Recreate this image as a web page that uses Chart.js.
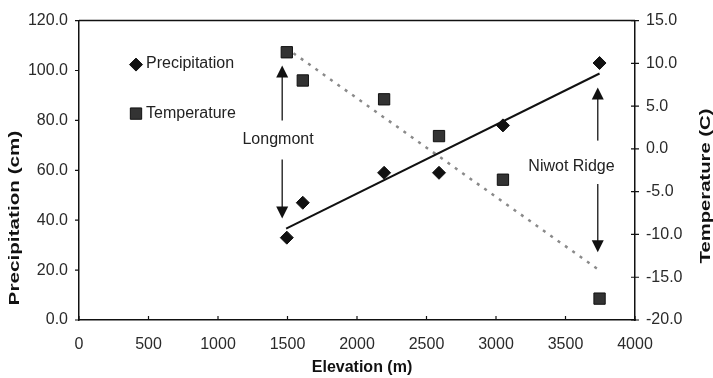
<!DOCTYPE html>
<html>
<head>
<meta charset="utf-8">
<script src="https://cdn.jsdelivr.net/npm/chart.js@4.4.0/dist/chart.umd.min.js"></script>
<style>
  body { margin: 0; background: #fff; }
  canvas { display: block; }
</style>
</head>
<body>
<canvas id="elevChart" width="713" height="378"></canvas>

<script>
  // station elevations (m) and the two measured series
  const elevation = [1495, 1610, 2195, 2590, 3050, 3745];
  const precipitation = [33, 47, 59, 59, 78, 103];
  const temperature = [11.3, 8.0, 5.8, 1.5, -3.6, -17.5];

  // fitted trend lines, end points
  const trendX = [1490, 3745];
  const precipTrend = [36.6, 98.8];
  const tempTrend = [11.8, -14.2];

  // annotation arrows (on the precipitation axis)
  const arrowX = [1462, 1462, 3732, 3732];
  const arrowFrom = [80, 64.3, 71.9, 54.5];
  const arrowTo = [102, 40.7, 93.2, 27.2];
  const noteText = ['Longmont', 'Niwot Ridge'];
  const noteX = [1432, 3543];
  const noteY = [72.2, 61.6];

  const pts = (xs, ys) => xs.map((x, i) => ({x: x, y: ys[i]}));
  const ink = '#2a2a2a';
  const font = '"Liberation Sans", Arial, sans-serif';
  Chart.defaults.font.family = font;

  const extras = {
    id: 'extras',
    afterDraw(chart) {
      const ctx = chart.ctx;
      const a = chart.chartArea;
      const sx = chart.scales.x, sy = chart.scales.y, sy2 = chart.scales.y2;
      ctx.save();
      // top frame line
      ctx.strokeStyle = '#111';
      ctx.lineWidth = 1.5;
      ctx.beginPath();
      ctx.moveTo(a.left, a.top);
      ctx.lineTo(a.right, a.top);
      ctx.stroke();
      // tick marks
      ctx.lineWidth = 1.2;
      ctx.beginPath();
      sy.ticks.forEach(t => {
        const p = sy.getPixelForValue(t.value);
        ctx.moveTo(a.left - 4, p); ctx.lineTo(a.left, p);
      });
      sy2.ticks.forEach(t => {
        const p = sy2.getPixelForValue(t.value);
        ctx.moveTo(a.right - 4, p); ctx.lineTo(a.right + 4, p);
      });
      sx.ticks.forEach(t => {
        const p = sx.getPixelForValue(t.value);
        ctx.moveTo(p, a.bottom); ctx.lineTo(p, a.bottom - 4);
      });
      ctx.stroke();

      // arrows
      ctx.strokeStyle = '#333';
      ctx.fillStyle = '#111';
      ctx.lineWidth = 1.5;
      arrowX.forEach((x, i) => {
        const px = sx.getPixelForValue(x);
        const y0 = sy.getPixelForValue(arrowFrom[i]);
        const y1 = sy.getPixelForValue(arrowTo[i]);
        const dir = y1 < y0 ? 1 : -1;
        ctx.beginPath();
        ctx.moveTo(px, y0);
        ctx.lineTo(px, y1 + dir * 10);
        ctx.stroke();
        ctx.beginPath();
        ctx.moveTo(px, y1);
        ctx.lineTo(px - 6, y1 + dir * 12);
        ctx.lineTo(px + 6, y1 + dir * 12);
        ctx.closePath();
        ctx.fill();
      });

      // notes
      ctx.fillStyle = '#222';
      ctx.font = '16px ' + font;
      ctx.textAlign = 'center';
      ctx.textBaseline = 'middle';
      noteText.forEach((t, i) => {
        ctx.fillText(t, sx.getPixelForValue(noteX[i]), sy.getPixelForValue(noteY[i]));
      });

      // legend inside the plot
      const ds = chart.data.datasets;
      const lx = a.left + 57;
      [44, 93].forEach((dy, i) => {
        const d = ds[i];
        ctx.fillStyle = d.backgroundColor;
        ctx.strokeStyle = d.borderColor;
        ctx.lineWidth = d.borderWidth;
        Chart.helpers.drawPoint(ctx, {
          pointStyle: d.pointStyle, radius: d.pointRadius,
          borderWidth: d.borderWidth, rotation: 0
        }, lx, a.top + dy);
      });
      ctx.textAlign = 'left';
      ctx.fillStyle = '#222';
      ctx.fillText(ds[0].label, lx + 10, a.top + 43);
      ctx.fillText(ds[1].label, lx + 10, a.top + 93);

      // axis titles (stretched, as in the scan)
      ctx.fillStyle = '#111';
      ctx.font = 'bold 15px ' + font;
      ctx.textAlign = 'center';
      ctx.save();
      ctx.translate(15, 218);
      ctx.rotate(-Math.PI / 2);
      ctx.scale(1.38, 1);
      ctx.fillText('Precipitation (cm)', 0, 0);
      ctx.restore();
      ctx.save();
      ctx.translate(706, 186);
      ctx.rotate(-Math.PI / 2);
      ctx.scale(1.35, 1);
      ctx.fillText('Temperature (C)', 0, 0);
      ctx.restore();
      ctx.font = 'bold 16px ' + font;
      ctx.fillText('Elevation (m)', 362, 368);
      ctx.restore();
    }
  };

  new Chart('elevChart', {
    type: 'scatter',
    data: {
      datasets: [{
        label: 'Precipitation',
        data: pts(elevation, precipitation),
        yAxisID: 'y',
        pointStyle: 'rectRot',
        pointRadius: 6.5,
        backgroundColor: '#111',
        borderColor: '#111',
        borderWidth: 1
      }, {
        label: 'Temperature',
        data: pts(elevation, temperature),
        yAxisID: 'y2',
        pointStyle: 'rect',
        pointRadius: 8,
        backgroundColor: '#333',
        borderColor: '#111',
        borderWidth: 1
      }, {
        label: 'P trend',
        type: 'line',
        data: pts(trendX, precipTrend),
        yAxisID: 'y',
        showLine: true,
        pointRadius: 0,
        borderColor: '#111',
        borderWidth: 2,
        fill: false
      }, {
        label: 'T trend',
        type: 'line',
        data: pts(trendX, tempTrend),
        yAxisID: 'y2',
        showLine: true,
        pointRadius: 0,
        borderColor: '#8a8a8a',
        borderWidth: 2.5,
        borderDash: [3, 6],
        fill: false
      }]
    },
    options: {
      responsive: false,
      animation: false,
      layout: {padding: {top: 17, left: 0, right: 0, bottom: 0}},
      plugins: {legend: {display: false}, tooltip: {enabled: false}},
      scales: {
        x: {
          type: 'linear',
          position: 'bottom',
          min: 0, max: 4000,
          ticks: {stepSize: 500, color: ink, font: {size: 16}, padding: 15, maxRotation: 0,
                  callback: v => String(v)},
          grid: {display: false, drawTicks: false},
          border: {display: true, color: '#111', width: 1.5},
          afterFit(s) { s.height = 58; }
        },
        y: {
          position: 'left',
          min: 0, max: 120,
          ticks: {stepSize: 20, color: ink, font: {size: 16}, padding: 11,
                  callback: v => v.toFixed(1)},
          grid: {display: false, drawTicks: false},
          border: {display: true, color: '#111', width: 1.5},
          afterFit(s) { s.width = 79; }
        },
        y2: {
          position: 'right',
          min: -20, max: 15,
          ticks: {stepSize: 5, color: ink, font: {size: 16}, padding: 11,
                  callback: v => v.toFixed(1)},
          grid: {display: false, drawTicks: false},
          border: {display: true, color: '#111', width: 1.5},
          afterFit(s) { s.width = 78; }
        }
      }
    },
    plugins: [extras]
  });
</script>
</body>
</html>
